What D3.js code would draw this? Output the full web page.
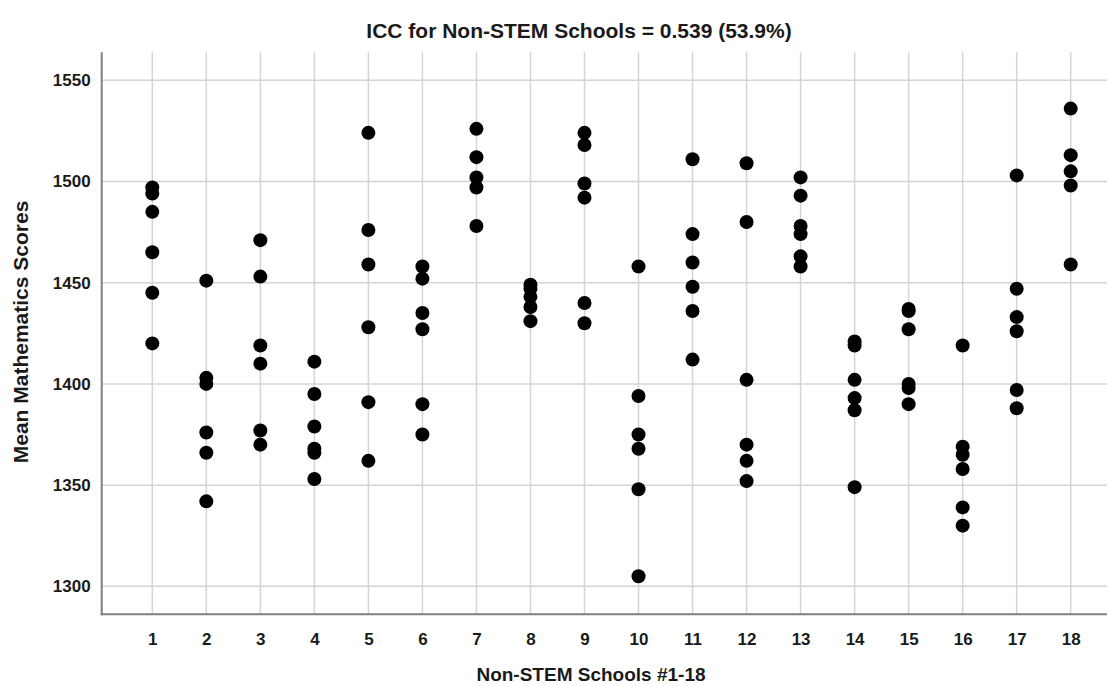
<!DOCTYPE html>
<html>
<head>
<meta charset="utf-8">
<script src="https://cdn.jsdelivr.net/npm/d3@7"></script>
<style>
  html, body { margin: 0; padding: 0; background: #fff; }
  svg { display: block; font-family: Arial, "Liberation Sans", sans-serif; }
</style>
</head>
<body>
<svg id="chart" width="1107" height="686"></svg>
<script>
// School numbers on the x axis
const schools = [1, 2, 3, 4, 5, 6, 7, 8, 9, 10, 11, 12, 13, 14, 15, 16, 17, 18];

// Mean mathematics scores per school (one array per school)
const school1  = [1497, 1494, 1485, 1465, 1445, 1420];
const school2  = [1451, 1403, 1400, 1376, 1366, 1342];
const school3  = [1471, 1453, 1419, 1410, 1377, 1370];
const school4  = [1411, 1395, 1379, 1368, 1366, 1353];
const school5  = [1524, 1476, 1459, 1428, 1391, 1362];
const school6  = [1458, 1452, 1435, 1427, 1390, 1375];
const school7  = [1526, 1512, 1502, 1497, 1478];
const school8  = [1449, 1447, 1443, 1438, 1431];
const school9  = [1524, 1518, 1499, 1492, 1440, 1430];
const school10 = [1458, 1394, 1375, 1368, 1348, 1305];
const school11 = [1511, 1474, 1460, 1448, 1436, 1412];
const school12 = [1509, 1480, 1402, 1370, 1362, 1352];
const school13 = [1502, 1493, 1478, 1474, 1463, 1458];
const school14 = [1421, 1419, 1402, 1393, 1387, 1349];
const school15 = [1437, 1436, 1427, 1400, 1398, 1390];
const school16 = [1419, 1369, 1365, 1358, 1339, 1330];
const school17 = [1503, 1447, 1433, 1426, 1397, 1388];
const school18 = [1536, 1513, 1505, 1498, 1459];

const scoresBySchool = [school1, school2, school3, school4, school5, school6,
  school7, school8, school9, school10, school11, school12, school13, school14,
  school15, school16, school17, school18];

const yTicks = [1300, 1350, 1400, 1450, 1500, 1550];

const titleText = "ICC for Non-STEM Schools = 0.539 (53.9%)";
const xTitle = "Non-STEM Schools #1-18";
const yTitle = "Mean Mathematics Scores";

// Flatten to one record per point
const points = [];
schools.forEach((s, i) => scoresBySchool[i].forEach(v => points.push({ school: s, score: v })));

const svg = d3.select("#chart");

// Plot frame
const plot = { left: 101.7, right: 1107, top: 52.3, bottom: 614.3 };

const x = d3.scaleLinear()
  .domain([1, 18])
  .range([152.3, 1070.7]);

const y = d3.scaleLinear()
  .domain([1286.2, 1563.8])
  .range([plot.bottom, plot.top]);

const textColor = "#1a1a1a";
const grid = svg.append("g").attr("class", "grid");

// Horizontal gridlines
grid.selectAll("line.h")
  .data(yTicks)
  .join("line")
  .attr("class", "h")
  .attr("x1", plot.left).attr("x2", plot.right)
  .attr("y1", d => y(d)).attr("y2", d => y(d))
  .attr("stroke", "#d4d4d4").attr("stroke-width", 1.5);

// Vertical gridlines at each school
grid.selectAll("line.v")
  .data(schools)
  .join("line")
  .attr("class", "v")
  .attr("x1", d => x(d)).attr("x2", d => x(d))
  .attr("y1", plot.top).attr("y2", plot.bottom)
  .attr("stroke", "#d4d4d4").attr("stroke-width", 1.5);

// Axes (no tick marks, labels only)
const yAxis = d3.axisLeft(y).tickValues(yTicks).tickSize(0).tickPadding(11).tickFormat(d3.format("d"));
const xAxis = d3.axisBottom(x).tickValues(schools).tickSize(0).tickPadding(19).tickFormat(d3.format("d"));

const gy = svg.append("g").attr("transform", `translate(${plot.left},0)`).call(yAxis);
gy.select(".domain").remove();
gy.selectAll("text")
  .attr("font-size", 17).attr("font-weight", "bold").attr("fill", textColor)
  .attr("font-family", "Arial, 'Liberation Sans', sans-serif");

const gx = svg.append("g").attr("transform", `translate(0,${plot.bottom})`).call(xAxis);
gx.select(".domain").remove();
gx.selectAll("text")
  .attr("font-size", 17).attr("font-weight", "bold").attr("fill", textColor)
  .attr("font-family", "Arial, 'Liberation Sans', sans-serif");

// Axis lines
svg.append("line")
  .attr("x1", plot.left).attr("x2", plot.left)
  .attr("y1", plot.top).attr("y2", plot.bottom + 1)
  .attr("stroke", "#7f7f7f").attr("stroke-width", 2);
svg.append("line")
  .attr("x1", plot.left - 1).attr("x2", plot.right)
  .attr("y1", plot.bottom).attr("y2", plot.bottom)
  .attr("stroke", "#7f7f7f").attr("stroke-width", 2);

// Points
svg.append("g").selectAll("circle")
  .data(points)
  .join("circle")
  .attr("cx", d => x(d.school))
  .attr("cy", d => y(d.score))
  .attr("r", 7)
  .attr("fill", "#000");

// Titles
svg.append("text")
  .attr("x", 579).attr("y", 38)
  .attr("text-anchor", "middle")
  .attr("font-size", 21).attr("font-weight", "bold").attr("fill", textColor)
  .text(titleText);

svg.append("text")
  .attr("x", 591).attr("y", 681)
  .attr("text-anchor", "middle")
  .attr("font-size", 19).attr("font-weight", "bold").attr("fill", textColor)
  .text(xTitle);

svg.append("text")
  .attr("transform", "translate(28,332) rotate(-90)")
  .attr("text-anchor", "middle")
  .attr("font-size", 21).attr("font-weight", "bold").attr("fill", textColor)
  .text(yTitle);
</script>
</body>
</html>
